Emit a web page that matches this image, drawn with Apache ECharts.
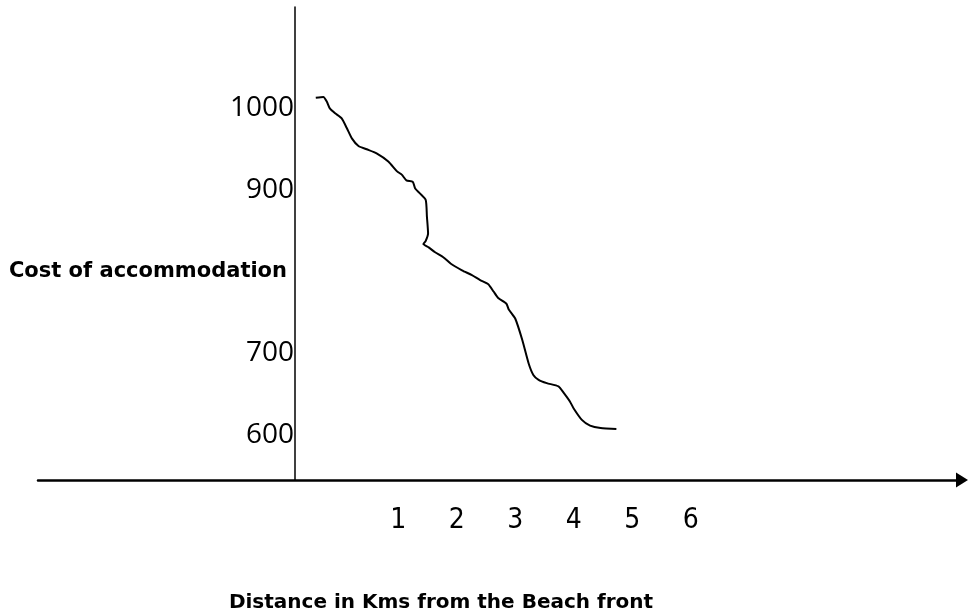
<!DOCTYPE html>
<html>
<head>
<meta charset="utf-8">
<script src="https://cdn.jsdelivr.net/npm/echarts@6/dist/echarts.min.js"></script>
<style>
  html, body { margin: 0; padding: 0; background: #fff; }
  #chart { width: 970px; height: 612px; }
</style>
</head>
<body>
<div id="chart"></div>
<script>
// distance (km)
var distance = [-0.41, -0.28, -0.22, -0.17, -0.08, 0.03, 0.12, 0.21, 0.32, 0.46,
  0.63, 0.83, 0.98, 1.06, 1.14, 1.25, 1.29, 1.37, 1.47, 1.49,
  1.51, 1.47, 1.43, 1.52, 1.63, 1.77, 1.90, 2.09, 2.26, 2.40,
  2.54, 2.63, 2.71, 2.85, 2.89, 3.00, 3.12, 3.23, 3.31, 3.40,
  3.54, 3.74, 3.83, 3.94, 4.00, 4.14, 4.28, 4.46, 4.73];
// cost of accommodation
var cost = [1010, 1011, 1005, 997, 991, 985, 973, 960, 951, 947,
  942, 932, 920, 916, 909, 907, 899, 893, 885, 865,
  844, 835, 831, 827, 821, 815, 807, 799, 793, 787,
  782, 773, 765, 758, 751, 740, 714, 685, 671, 665,
  661, 657, 649, 638, 630, 616, 609, 606, 605];
var xTicks = [1, 2, 3, 4, 5, 6];
// the 800 slot carries the axis title in the drawing
var yTicks = [600, 700, 800, 900, 1000];
var yTitle = 'Cost of accommodation';
var xTitle = 'Distance in Kms from the Beach front';

var chart = echarts.init(document.getElementById('chart'));

var points = distance.map(function (d, i) { return [d, cost[i]]; });

var option = {
  animation: false,
  grid: { left: 38, right: 8, top: 7, bottom: 132, containLabel: false, outerBoundsMode: 'none' },
  xAxis: {
    type: 'value',
    min: -5.16,
    max: 10.64,
    splitLine: { show: false },
    axisTick: { show: false },
    axisLine: {
      onZero: false,
      symbol: ['none', 'triangle'],
      symbolSize: [15, 12],
      lineStyle: { color: '#000', width: 2.5 }
    },
    axisLabel: {
      customValues: xTicks,
      margin: 27,
      color: '#000',
      fontFamily: 'DejaVu Sans Condensed, Open Sans',
      fontSize: 28,
      formatter: function (v) { return String(v); }
    },
    name: xTitle,
    nameLocation: 'middle',
    nameGap: 113,
    nameTextStyle: {
      color: '#000',
      fontFamily: 'DejaVu Sans',
      fontWeight: 'bold',
      fontSize: 20,
      padding: [0, 118, 0, 0]
    }
  },
  yAxis: {
    type: 'value',
    min: 542.5,
    max: 1121,
    offset: -257,
    splitLine: { show: false },
    axisTick: { show: false },
    axisLine: {
      onZero: false,
      lineStyle: { color: '#000', width: 1.5 }
    },
    axisLabel: {
      customValues: yTicks,
      margin: 1,
      color: '#000',
      fontFamily: 'Open Sans',
      fontSize: 28,
      padding: [4, 0, 0, 0],
      formatter: function (v) {
        return v === 800 ? '{t|' + yTitle + '}' : String(v);
      },
      rich: {
        t: {
          fontFamily: 'DejaVu Sans',
          fontWeight: 'bold',
          fontSize: 21,
          color: '#000',
          padding: [0, 7, 0, 0]
        }
      }
    }
  },
  series: [
    {
      type: 'line',
      data: points,
      showSymbol: false,
      smooth: 0.2,
      lineStyle: { color: '#000', width: 2 }
    }
  ]
};
chart.setOption(option);
</script>
</body>
</html>
